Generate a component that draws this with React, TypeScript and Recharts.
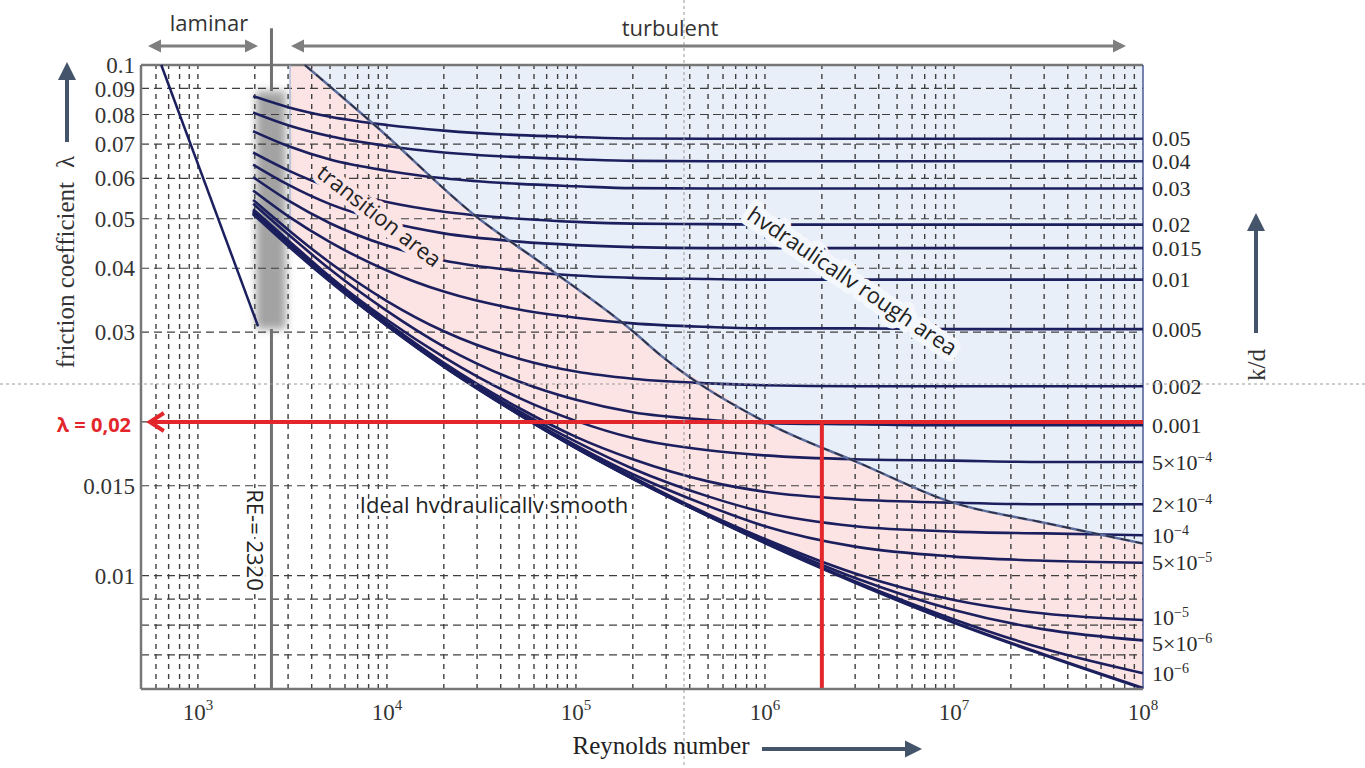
import {
  ComposedChart, Line, Area, Scatter, XAxis, YAxis, ReferenceLine, ReferenceArea,
} from 'recharts'

const reSamples = [1960, 3000, 5000, 1e4, 2e4, 5e4, 1e5, 2e5, 5e5, 1e6, 3e6, 1e7, 3e7, 1e8]

// friction coefficient for each relative roughness k/d
const kd0_05 = [0.0869, 0.0827, 0.0792, 0.0763, 0.0744, 0.0729, 0.0723, 0.0718, 0.0717, 0.0717, 0.0717, 0.0717, 0.0717, 0.0717]
const kd0_04 = [0.0807, 0.0762, 0.0725, 0.0694, 0.0674, 0.066, 0.0654, 0.0649, 0.0648, 0.0648, 0.0648, 0.0648, 0.0648, 0.0648]
const kd0_03 = [0.0742, 0.0694, 0.0653, 0.0621, 0.06, 0.0585, 0.0579, 0.0574, 0.0573, 0.0573, 0.0573, 0.0573, 0.0573, 0.0573]
const kd0_02 = [0.0674, 0.0622, 0.0576, 0.0539, 0.0516, 0.05, 0.0493, 0.0489, 0.0488, 0.0487, 0.0487, 0.0487, 0.0487, 0.0487]
const kd0_015 = [0.0638, 0.0583, 0.0534, 0.0493, 0.0468, 0.0451, 0.0444, 0.044, 0.0438, 0.0438, 0.0438, 0.0438, 0.0438, 0.0438]
const kd0_01 = [0.0603, 0.0543, 0.049, 0.0443, 0.0414, 0.0395, 0.0387, 0.0383, 0.0381, 0.038, 0.038, 0.038, 0.038, 0.038]
const kd0_005 = [0.0568, 0.0506, 0.045, 0.0396, 0.036, 0.0332, 0.032, 0.0312, 0.0307, 0.0305, 0.0305, 0.0304, 0.0304, 0.0304]
const kd0_002 = [0.0544, 0.0476, 0.041, 0.0345, 0.0301, 0.0266, 0.0251, 0.0243, 0.0238, 0.0236, 0.0235, 0.0235, 0.0235, 0.0235]
const kd0_001 = [0.0535, 0.0466, 0.0398, 0.033, 0.0281, 0.024, 0.0221, 0.0209, 0.0202, 0.0199, 0.0198, 0.0197, 0.0197, 0.0197]
const kd5e4 = [0.0522, 0.0454, 0.0385, 0.0317, 0.0268, 0.0223, 0.0201, 0.0186, 0.0176, 0.0172, 0.0169, 0.0168, 0.0167, 0.0167]
const kd2e4 = [0.0519, 0.0451, 0.0383, 0.0313, 0.0261, 0.0213, 0.0187, 0.0169, 0.0153, 0.0146, 0.0141, 0.0139, 0.0138, 0.0138]
const kd1e4 = [0.0517, 0.045, 0.0382, 0.0311, 0.0259, 0.021, 0.0183, 0.0162, 0.0143, 0.0133, 0.0125, 0.0122, 0.0121, 0.012]
const kd5e5 = [0.0515, 0.0449, 0.0381, 0.031, 0.0258, 0.0208, 0.018, 0.0158, 0.0137, 0.0125, 0.0114, 0.0109, 0.0107, 0.0106]
const kd1e5 = [0.0514, 0.0448, 0.038, 0.031, 0.0258, 0.0207, 0.0179, 0.0156, 0.0132, 0.0118, 0.0101, 0.00896, 0.00843, 0.00819]
const kd5e6 = [0.0513, 0.0447, 0.0379, 0.0309, 0.0258, 0.0207, 0.0178, 0.0155, 0.0131, 0.0117, 0.0099, 0.00857, 0.00785, 0.00747]
const kd1e6 = [0.0512, 0.0446, 0.0378, 0.0309, 0.0257, 0.0207, 0.0178, 0.0155, 0.0131, 0.0116, 0.00974, 0.00821, 0.00719, 0.00644]
const smooth = [0.0511, 0.0443, 0.0377, 0.0309, 0.0257, 0.0207, 0.0178, 0.0155, 0.0131, 0.0116, 0.0097, 0.0081, 0.007, 0.00602]

const kdCurves = [kd0_05, kd0_04, kd0_03, kd0_02, kd0_015, kd0_01, kd0_005, kd0_002, kd0_001, kd5e4, kd2e4, kd1e4, kd5e5, kd1e5, kd5e6, kd1e6]
const kdLabels = [
  ['0.05'], ['0.04'], ['0.03'], ['0.02'], ['0.015'], ['0.01'], ['0.005'], ['0.002'], ['0.001'],
  ['5×10', '−4'], ['2×10', '−4'], ['10', '−4'], ['5×10', '−5'], ['10', '−5'], ['5×10', '−6'], ['10', '−6'],
]

// laminar flow line
const laminarRe = [640, 2080]
const laminarF = [0.1, 0.0308]

// limit of the hydraulically rough area
const boundaryRe = [3680, 8850, 29900, 70300, 198000, 288000, 1030000, 3180000, 9900000, 3e7, 1e8]
const boundaryF = [0.1, 0.0756, 0.0504, 0.0402, 0.0302, 0.0268, 0.0199, 0.0166, 0.0139, 0.0127, 0.01156]

// transition area (between smooth curve and rough limit)
const transRe = [3070, 3680, 5000, 8850, 2e4, 29900, 70300, 1e5, 198000, 288000, 5e5, 1030000, 3180000, 9900000, 3e7, 1e8]
const transLow = [0.044, 0.0415, 0.0377, 0.032, 0.0257, 0.0233, 0.0192, 0.0178, 0.0155, 0.0145, 0.0131, 0.0115, 0.0096, 0.0081, 0.007, 0.00602]
const transHigh = [0.1, 0.1, 0.0907, 0.0756, 0.0576, 0.0504, 0.0402, 0.0365, 0.0302, 0.0268, 0.0236, 0.0199, 0.0166, 0.0139, 0.0127, 0.01156]

const lambdaMax = 0.1
const lambdaMin = 0.006
const reMin = 500
const reMax = 1e8
const reCritical = 2450
const lambdaMarked = 0.02
const reMarked = 2e6

const xTicks = [1e3, 1e4, 1e5, 1e6, 1e7, 1e8]
const yTicks = [0.01, 0.015, 0.03, 0.04, 0.05, 0.06, 0.07, 0.08, 0.09, 0.1]
const gridMultipliers = [1, 2, 3, 4, 5, 6, 7, 8, 9]
const gridDecades = [1e2, 1e3, 1e4, 1e5, 1e6, 1e7]
const gridRe = gridDecades.flatMap((d) => gridMultipliers.map((m) => m * d)).filter((v) => v > reMin && v < reMax)
const gridF = [0.007, 0.008, 0.009, 0.01, 0.015, 0.02, 0.03, 0.04, 0.05, 0.06, 0.07, 0.08, 0.09]

const navy = '#1c1f5e'
const red = '#e3262b'
const slate = '#44546a'
const serif = '"Liberation Serif", serif'
const sans = '"Open Sans", sans-serif'

const toPoints = (vals: number[]) => reSamples.map((re, i) => ({ re, f: vals[i] }))
const kdEnds = kdCurves.map((vals, i) => ({ re: reSamples[reSamples.length - 1], f: vals[vals.length - 1], label: kdLabels[i] }))
const laminarData = laminarRe.map((re, i) => ({ re, f: laminarF[i] }))
const boundaryData = boundaryRe.map((re, i) => ({ re, f: boundaryF[i] }))
const roughData = boundaryRe.map((re, i) => ({ re, lo: boundaryF[i], hi: lambdaMax }))
const transData = transRe.map((re, i) => ({ re, lo: transLow[i], hi: transHigh[i] }))

function ReTick({ x, y, payload }: any) {
  const exp = Math.round(Math.log10(payload.value))
  return (
    <text x={x} y={y + 23} textAnchor="middle" fontFamily={serif} fontSize={23} fill="#333">
      10<tspan dy={-10} fontSize={15}>{exp}</tspan>
    </text>
  )
}

function KdLabel({ cx, cy, payload }: any) {
  const [base, exp] = payload.label
  // the two crowded labels near the bottom are pulled apart a little, as in the original
  const nudge = exp === '−5' && base === '10' ? -3 : exp === '−6' && base !== '10' ? 3 : 0
  return (
    <text x={cx + 9} y={cy + nudge} dy="0.35em" fontFamily={serif} fontSize={22} fill="#2b2b2b">
      {base}
      {exp && <tspan dy={-8} fontSize={14}>{exp}</tspan>}
    </text>
  )
}

function Band({ x, y, width, height }: any) {
  return (
    <g>
      <defs>
        <filter id="bandBlur" x="-60%" y="-20%" width="220%" height="140%">
          <feGaussianBlur stdDeviation="4" />
        </filter>
      </defs>
      <rect x={x} y={y} width={width} height={height} fill="#a3a3a3" filter="url(#bandBlur)" />
    </g>
  )
}

function RedArrow({ x1, y1, x2, y2 }: any) {
  return (
    <g>
      <line x1={x1} y1={y1} x2={x2 + 2} y2={y2} stroke={red} strokeWidth={4} />
      <polyline points={`${x2 + 14},${y2 - 9} ${x2},${y2} ${x2 + 14},${y2 + 9}`} fill="none" stroke={red} strokeWidth={4} />
    </g>
  )
}

function Arrow({ x1, y1, x2, y2, color, width, head, both }: any) {
  const a = Math.atan2(y2 - y1, x2 - x1)
  const tri = (tx: number, ty: number, ang: number) => {
    const bx = tx - head * Math.cos(ang)
    const by = ty - head * Math.sin(ang)
    const w = head * 0.5
    return `${tx},${ty} ${bx + w * Math.sin(ang)},${by - w * Math.cos(ang)} ${bx - w * Math.sin(ang)},${by + w * Math.cos(ang)}`
  }
  return (
    <g>
      <line x1={both ? x1 + head * Math.cos(a) * 0.8 : x1} y1={both ? y1 + head * Math.sin(a) * 0.8 : y1}
        x2={x2 - head * Math.cos(a) * 0.8} y2={y2 - head * Math.sin(a) * 0.8} stroke={color} strokeWidth={width} />
      <polygon points={tri(x2, y2, a)} fill={color} />
      {both && <polygon points={tri(x1, y1, a + Math.PI)} fill={color} />}
    </g>
  )
}

export default function App() {
  return (
    <div style={{ position: 'absolute', left: 0, top: 0, width: 1365, height: 768, background: '#fff', overflow: 'hidden' }}>
      <ComposedChart width={1365} height={768} margin={{ top: 65, right: 222, bottom: 39, left: 81 }}>
        <XAxis dataKey="re" type="number" scale="log" domain={[reMin, reMax]} ticks={xTicks} interval={0}
          tick={<ReTick />} tickLine={false} height={40} axisLine={{ stroke: '#777', strokeWidth: 2.5 }} />
        <YAxis type="number" scale="log" domain={[lambdaMin, lambdaMax]} ticks={yTicks} interval={0}
          tickFormatter={(v) => String(v)} tickLine={false} tickSize={4} width={60}
          axisLine={{ stroke: '#777', strokeWidth: 2.5 }}
          tick={{ fontFamily: serif, fontSize: 23, fill: '#333' }} />

        <Area data={roughData} dataKey={(d: any) => [d.lo, d.hi]} type="monotone" stroke="none" fill="#e9eff9" fillOpacity={1} isAnimationActive={false} />
        <Area data={transData} dataKey={(d: any) => [d.lo, d.hi]} type="monotone" stroke="none" fill="#fce4e4" fillOpacity={1} isAnimationActive={false} />

        {gridRe.map((v) => (
          <ReferenceLine key={'gx' + v} x={v} stroke="#3f3f3f" strokeWidth={1.4} strokeDasharray="5 5" />
        ))}
        {gridF.map((v) => (
          <ReferenceLine key={'gy' + v} y={v} stroke="#3f3f3f" strokeWidth={1.2} strokeDasharray="8 5" />
        ))}

        <ReferenceLine y={lambdaMax} stroke="#777" strokeWidth={2.5} />
        <ReferenceLine x={reMax} stroke="#4b5a95" strokeWidth={1.5} />
        <ReferenceLine segment={[{ x: transRe[0], y: lambdaMax }, { x: transRe[0], y: transLow[0] }]} stroke="#9fb0d0" strokeWidth={1.2} />

        <ReferenceLine segment={[{ x: reCritical, y: 0.118 }, { x: reCritical, y: 0.0889 }]} ifOverflow="visible" stroke="#707070" strokeWidth={3} />
        <ReferenceLine segment={[{ x: reCritical, y: 0.0304 }, { x: reCritical, y: lambdaMin }]} ifOverflow="visible" stroke="#707070" strokeWidth={3} />
        <ReferenceArea x1={2030} x2={2920} y1={0.0304} y2={0.0889} ifOverflow="visible" shape={<Band />} />

        <Line data={laminarData} dataKey="f" type="linear" stroke={navy} strokeWidth={2.5} dot={false} isAnimationActive={false} />
        {kdCurves.map((vals, i) => (
          <Line key={'kd' + i} data={toPoints(vals)} dataKey="f" type="monotone" stroke={navy} strokeWidth={2.6} dot={false} isAnimationActive={false} />
        ))}
        <Line data={toPoints(smooth)} dataKey="f" type="monotone" stroke={navy} strokeWidth={3.2} dot={false} isAnimationActive={false} />

        <Line data={boundaryData} dataKey="f" type="monotone" stroke="#5d6f9f" strokeWidth={2.5} dot={false} isAnimationActive={false} />
        <Line data={boundaryData} dataKey="f" type="monotone" stroke="#222230" strokeOpacity={0.85} strokeWidth={1.6} strokeDasharray="9 6" dot={false} isAnimationActive={false} />

        <ReferenceLine segment={[{ x: reMax, y: lambdaMarked }, { x: 557, y: lambdaMarked }]} ifOverflow="visible" shape={<RedArrow />} />
        <ReferenceLine segment={[{ x: reMarked, y: lambdaMarked }, { x: reMarked, y: lambdaMin }]} stroke={red} strokeWidth={4} />

        <Scatter data={kdEnds} dataKey="f" shape={<KdLabel />} isAnimationActive={false} />
      </ComposedChart>

      <svg width={1365} height={768} style={{ position: 'absolute', left: 0, top: 0, pointerEvents: 'none' }}>
        <line x1={684} y1={0} x2={684} y2={768} stroke="#9a9a9a" strokeWidth={1} strokeDasharray="3 3" />
        <line x1={0} y1={384} x2={1365} y2={384} stroke="#9a9a9a" strokeWidth={1} strokeDasharray="3 3" />

        <text x={209} y={31} textAnchor="middle" fontFamily={sans} fontSize={22} fill="#333">laminar</text>
        <text x={670} y={36} textAnchor="middle" fontFamily={sans} fontSize={22} fill="#333">turbulent</text>
        <Arrow x1={148} y1={46} x2={258} y2={46} color="#7f7f7f" width={3} head={13} both />
        <Arrow x1={291} y1={46} x2={1126} y2={46} color="#7f7f7f" width={3} head={13} both />

        <text x={131} y={425} dy="0.35em" textAnchor="end" fontFamily={sans} fontWeight={700} fontSize={20} fill={red}>λ = 0,02</text>

        <text transform="translate(65 262) rotate(-90)" textAnchor="middle" dominantBaseline="central" fontFamily={serif} fontSize={25} fill="#333">
          friction coefficient<tspan dx={14}>λ</tspan>
        </text>
        <Arrow x1={67} y1={142} x2={67} y2={62} color={slate} width={4} head={18} />

        <text transform="translate(1256 365) rotate(-90)" textAnchor="middle" dominantBaseline="central" fontFamily={serif} fontSize={25} fill="#333">k/d</text>
        <Arrow x1={1256} y1={333} x2={1256} y2={213} color={slate} width={4} head={18} />

        <text x={661} y={754} textAnchor="middle" fontFamily={serif} fontSize={25} fill="#222">Reynolds number</text>
        <Arrow x1={762} y1={749} x2={922} y2={749} color={slate} width={4} head={17} />

        <text transform="translate(380 215) rotate(38)" textAnchor="middle" dominantBaseline="central" fontFamily={sans} fontSize={22} fill="#222"
          stroke="#fce4e4" strokeWidth={10} strokeLinejoin="round" paintOrder="stroke">transition area</text>
        <text transform="translate(853 280) rotate(34)" textAnchor="middle" dominantBaseline="central" fontFamily={sans} fontSize={22} fill="#222"
          stroke="#f4f7fc" strokeWidth={12} strokeLinejoin="round" paintOrder="stroke">hvdraulicallv rough area</text>
        <text x={494} y={513} textAnchor="middle" fontFamily={sans} fontSize={22} fill="#222"
          stroke="#fff" strokeWidth={6} strokeLinejoin="round" paintOrder="stroke">Ideal hvdraulicallv smooth</text>
        <text transform="translate(256 540) rotate(90)" textAnchor="middle" dominantBaseline="central" fontFamily={sans} fontSize={22} fill="#222"
          stroke="#fff" strokeWidth={7} strokeLinejoin="round" paintOrder="stroke">RE-= 2320</text>
      </svg>
    </div>
  )
}
